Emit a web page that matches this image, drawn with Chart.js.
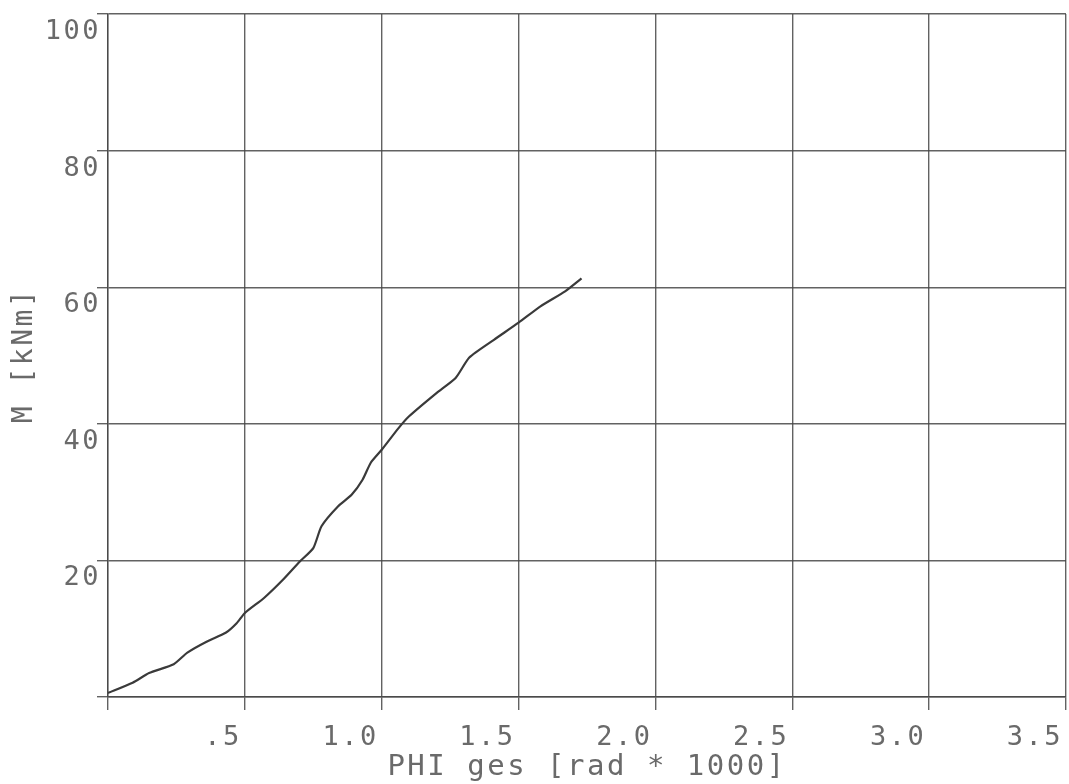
<!DOCTYPE html>
<html>
<head>
<meta charset="utf-8">
<title>M - PHI ges</title>
<script src="https://cdn.jsdelivr.net/npm/chart.js@4.4.1/dist/chart.umd.min.js"></script>
<style>
    html, body { margin: 0; padding: 0; background: #fff; }
    #chartBox { width: 1069px; height: 784px; }
</style>
</head>
<body>
<div id="chartBox"><canvas id="momentChart" width="1069" height="784"></canvas></div>
<script>
// Measured curve: PHI ges [rad * 1000] vs M [kNm]
const phiValues = [0.00, 0.09, 0.15, 0.24, 0.29, 0.36, 0.43, 0.47, 0.50, 0.57, 0.64, 0.70, 0.75, 0.78, 0.84,
    0.89, 0.93, 0.96, 1.00, 1.06, 1.10, 1.20, 1.27, 1.32, 1.41, 1.50, 1.58, 1.67, 1.73];
const momentValues = [0.6, 2.1, 3.5, 4.8, 6.5, 8.1, 9.4, 10.8, 12.3, 14.5, 17.2, 19.8, 21.8, 25.0, 27.9,
    29.6, 31.8, 34.3, 36.2, 39.3, 41.1, 44.5, 46.7, 49.7, 52.3, 54.8, 57.2, 59.4, 61.3];

// Tick labels (zero is left blank on both axes)
const xTickLabels = ['', '.5', '1.0', '1.5', '2.0', '2.5', '3.0', '3.5'];
const yTickLabels = ['', '20', '40', '60', '80', '100'];

const inkColor = '#6a6a6a';
const gridColor = 'rgba(70, 70, 70, 0.85)';
const plotFont = 'DejaVu Sans Mono';

// plotter-like wide letter spacing
const spacingPlugin = {
    id: 'plotterSpacing',
    beforeLayout(chart) { chart.ctx.letterSpacing = '2.5px'; },
    beforeDraw(chart) { chart.ctx.letterSpacing = '2.5px'; }
};

document.addEventListener('DOMContentLoaded', function() {
    const points = phiValues.map((x, i) => ({ x: x, y: momentValues[i] }));
    const ctx = document.getElementById('momentChart').getContext('2d');

    new Chart(ctx, {
        type: 'line',
        data: {
            datasets: [{
                label: 'M',
                data: points,
                borderColor: '#3a3a3a',
                borderWidth: 2.2,
                pointRadius: 0,
                tension: 0.2,
                fill: false
            }]
        },
        options: {
            responsive: false,
            animation: false,
            devicePixelRatio: 1,
            layout: { padding: { top: 14, right: 3, left: 0, bottom: 0 } },
            plugins: {
                legend: { display: false },
                tooltip: { enabled: false }
            },
            scales: {
                x: {
                    type: 'linear',
                    min: 0,
                    max: 3.5,
                    afterFit: scale => {
                        scale.height = 87;
                        scale.paddingRight = 0; // labels are end-aligned, no overflow
                    },
                    grid: { color: gridColor, lineWidth: 1.4, tickLength: 13 },
                    border: { color: gridColor, width: 1.4 },
                    ticks: {
                        stepSize: 0.5,
                        align: 'end',
                        padding: 12,
                        labelOffset: -3,
                        maxRotation: 0,
                        color: inkColor,
                        font: { family: plotFont, size: 27 },
                        callback: (value, index) => xTickLabels[index]
                    },
                    title: {
                        display: true,
                        text: 'PHI ges [rad * 1000]',
                        color: inkColor,
                        font: { family: plotFont, size: 29 },
                        padding: { top: 0, bottom: -1 }
                    }
                },
                y: {
                    min: 0,
                    max: 100,
                    afterFit: scale => { scale.width = 108; },
                    grid: { color: gridColor, lineWidth: 1.4, tickLength: 11 },
                    border: { color: gridColor, width: 1.4 },
                    ticks: {
                        stepSize: 20,
                        padding: -4,
                        labelOffset: 18,
                        color: inkColor,
                        font: { family: plotFont, size: 27 },
                        callback: (value, index) => yTickLabels[index]
                    },
                    title: {
                        display: true,
                        text: 'M [kNm]',
                        color: inkColor,
                        font: { family: plotFont, size: 28 },
                        padding: { top: 8, bottom: 0 }
                    }
                }
            }
        },
        plugins: [spacingPlugin]
    });
});
</script>
</body>
</html>
